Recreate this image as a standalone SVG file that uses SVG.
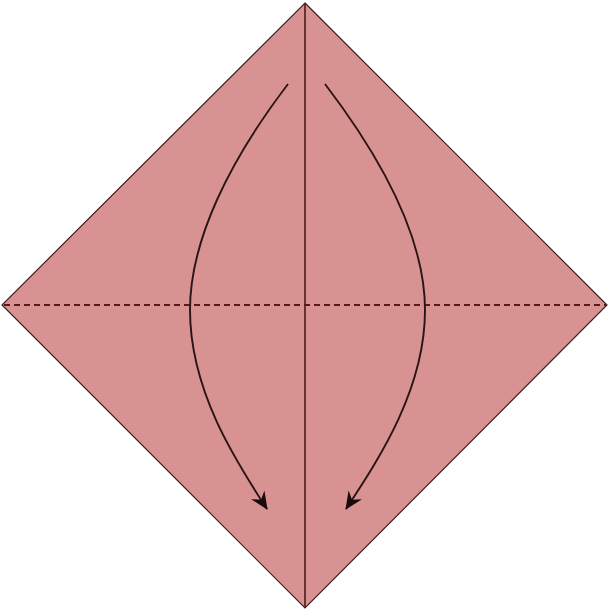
<svg xmlns="http://www.w3.org/2000/svg" width="608" height="611" viewBox="0 0 608 611">
<style>
.edge{fill:none;stroke:#2a1414;stroke-width:1.9}
.paper{fill:#d99292;stroke:#3a2020;stroke-width:1.2}
.crease{stroke:#4a1c1c;stroke-width:1.6}
.dash{stroke:#5a1a1a;stroke-width:1.8;stroke-dasharray:6 4}
</style>
<defs>
<marker id="ah" viewBox="-18 -9 20 18" refX="0" refY="0" markerWidth="20" markerHeight="18" markerUnits="userSpaceOnUse" orient="auto">
<path d="M1,0 L-17,-8 L-11,0 L-17,8 z" fill="#1a0a0a"/>
</marker>
</defs>
<g id="paper">
<polygon class="paper" points="305,3 607,305 305,608 2,305"/>
</g>
<g id="creases">
<line class="crease" x1="305" y1="3" x2="305" y2="608"/>
<line class="dash" x1="4" y1="305" x2="606" y2="305"/>
</g>
<g id="connectors">
<path class="edge" marker-end="url(#ah)" d="M288,84 C230,160 190,240 190,310 C190,390 235,460 267,509"/>
<path class="edge" marker-end="url(#ah)" d="M325,84 C383,160 425,240 425,310 C425,390 378,460 346,509"/>
</g>
</svg>
